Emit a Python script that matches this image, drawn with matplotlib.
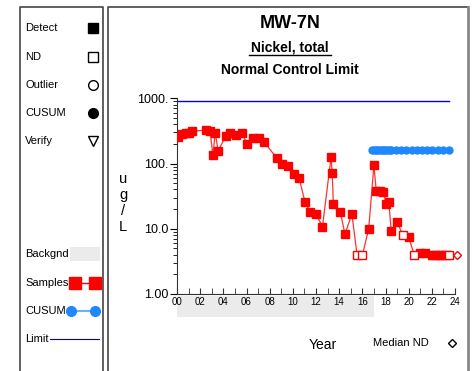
import matplotlib
matplotlib.use("Agg")
import matplotlib.pyplot as plt
import matplotlib.transforms as mtransforms
from matplotlib.patches import Rectangle
from matplotlib.lines import Line2D

plt.rcParams['font.family'] = ['Liberation Sans', 'DejaVu Sans']

# Muestras (anio decimal desde 2000, ug/L)
anios = [0.05, 0.4, 0.8, 1.05, 1.3, 2.5, 2.85, 3.1, 3.3, 3.55, 4.2, 4.6, 5.1, 5.6,
         6.06, 6.6, 7.07, 7.5, 8.6, 9.1, 9.55, 10.1, 10.55, 11.06, 11.5, 12.0,
         12.56, 13.3, 13.4, 13.5, 14.1, 14.5, 15.1, 15.55, 16.0, 16.55, 17.0,
         17.2, 17.5, 17.8, 18.08, 18.28, 18.5, 19.0, 19.5, 20.0, 20.5, 20.95,
         21.4, 22.0, 22.3, 22.6, 22.9, 23.2, 23.5]
valores = [257, 280, 296, 290, 314, 325, 314, 134, 296, 155, 263, 289, 273, 289,
           200, 248, 248, 216, 122, 97, 91, 70, 59, 25.4, 18, 16.8,
           10.8, 125, 72, 24, 18, 8.3, 16.8, 3.9, 3.9, 10, 94,
           38.5, 37.5, 36.8, 24, 25.7, 9.3, 12.8, 7.9, 7.4, 3.9, 4.27,
           4.3, 3.9, 3.9, 3.9, 3.9, 3.9, 3.9]
noDetectado = [False]*33 + [True, True] + [False]*9 + [True, False, True] + [False]*7 + [True]

# CUSUM
anioCusum = [16.85, 17.0, 17.15, 17.3, 17.45, 17.6, 17.75, 17.9, 18.05, 18.2, 18.35,
             18.5, 18.9, 19.35, 19.8, 20.25, 20.7, 21.15, 21.6, 22.05, 22.5, 22.95, 23.45]
valorCusum = [164]*len(anioCusum)

limite = 920
anioLimite = [0, 23.5]
medianaND = 3.9
anioFondo = 17.0

fig = plt.figure(figsize=(4.74, 3.71), dpi=100)
W, H = 474.0, 371.0

def fx(px):
    return px / W

def fy(py):
    return 1 - py / H

# Marcos de los paneles
fig.add_artist(Line2D([fx(20), fx(20), fx(103), fx(103)], [0, fy(7), fy(7), 0], color='#444444', lw=1.2))
fig.add_artist(Line2D([fx(108), fx(108), fx(468)], [0, fy(7), fy(7)], color='#444444', lw=1.2))
fig.add_artist(Line2D([fx(468), fx(468)], [fy(7), 0], color='#888888', lw=2))

# Leyenda
fs = 8
items = [('Detect', 's', 'black', 'black', 28), ('ND', 's', 'white', 'black', 57),
         ('Outlier', 'o', 'white', 'black', 85), ('CUSUM', 'o', 'black', 'black', 113),
         ('Verify', 'v', 'white', 'black', 141)]
for texto, m, fc, ec, py in items:
    fig.text(fx(25), fy(py), texto, fontsize=fs, va='center', ha='left')
    fig.add_artist(Line2D([fx(93)], [fy(py)], marker=m, markersize=7, markerfacecolor=fc,
                          markeredgecolor=ec, linestyle='none'))

fig.text(fx(25), fy(254), 'Backgnd', fontsize=fs, va='center')
fig.add_artist(Rectangle((fx(70), fy(261)), fx(30), 14 / H, transform=fig.transFigure,
                         facecolor='#ebebeb', edgecolor='none'))
fig.text(fx(25), fy(283), 'Samples', fontsize=fs, va='center')
fig.add_artist(Line2D([fx(75), fx(95)], [fy(283), fy(283)], color='red', lw=1,
                      marker='s', markersize=8, markerfacecolor='red', markeredgecolor='red'))
fig.text(fx(25), fy(311), 'CUSUM', fontsize=fs, va='center')
fig.add_artist(Line2D([fx(71), fx(95)], [fy(311), fy(311)], color='#66b3ff', lw=1.5,
                      marker='o', markersize=7, markerfacecolor='#1e88ff', markeredgecolor='#1e88ff'))
fig.text(fx(25), fy(339), 'Limit', fontsize=fs, va='center')
fig.add_artist(Line2D([fx(50), fx(99)], [fy(339), fy(339)], color='#0000cc', lw=0.8))

# Titulos
fig.text(fx(290), fy(24), 'MW-7N', fontsize=13, fontweight='bold', ha='center', va='center')
fig.text(fx(290), fy(47), 'Nickel, total', fontsize=10, fontweight='bold', ha='center', va='center')
fig.add_artist(Line2D([fx(249), fx(331)], [fy(55), fy(55)], color='black', lw=1))
fig.text(fx(290), fy(70), 'Normal Control Limit', fontsize=10, fontweight='bold', ha='center', va='center')

# Grafico principal
ax = fig.add_axes([177 / W, 1 - 294 / H, 278 / W, (294 - 98.3) / H])
ax.set_yscale('log')
ax.set_xlim(0, 24)
ax.set_ylim(1, 1000)

trans = mtransforms.blended_transform_factory(ax.transData, ax.transAxes)
ax.add_patch(Rectangle((0, -0.117), anioFondo, 0.105, transform=trans, facecolor='#ebebeb',
                       edgecolor='none', clip_on=False, zorder=0))

ax.plot(anioLimite, [limite, limite], color='#0000ee', lw=1, zorder=2)
ax.plot(anioCusum, valorCusum, color='#66b3ff', lw=1, marker='o', markersize=5,
        markerfacecolor='#1e88ff', markeredgecolor='#1e88ff', zorder=3)
ax.plot(anios, valores, color='#ff3030', lw=0.9, zorder=4)
xd = [a for a, n in zip(anios, noDetectado) if not n]
yd = [v for v, n in zip(valores, noDetectado) if not n]
xn = [a for a, n in zip(anios, noDetectado) if n]
yn = [v for v, n in zip(valores, noDetectado) if n]
ax.plot(xd, yd, 's', color='red', markersize=5.5, zorder=5)
ax.plot(xn, yn, 's', markerfacecolor='white', markeredgecolor='red', markersize=5.5, zorder=5)
ax.plot([24.2], [medianaND], 'D', markerfacecolor='white', markeredgecolor='red',
        markersize=4, clip_on=False, zorder=5)

for lado in ['top', 'right']:
    ax.spines[lado].set_visible(False)
ax.spines['left'].set_color('#333333')
ax.spines['bottom'].set_color('#333333')

ax.set_xticks(range(0, 25, 2))
ax.set_xticklabels(['%02d' % a for a in range(0, 25, 2)], fontsize=7)
ax.set_xticks(range(1, 24, 2), minor=True)
ax.tick_params(axis='x', which='both', direction='in', length=4, pad=2, colors='#333333', labelcolor='black')

ax.set_yticks([1, 10, 100, 1000])
ax.set_yticklabels(['1.00', '10.0', '100.', '1000.'], fontsize=9)
ax.tick_params(axis='y', which='major', direction='out', length=5, pad=1)
ax.tick_params(axis='y', which='minor', direction='out', length=3)

fig.text(fx(123), fy(203), 'u\ng\n/\nL', fontsize=10.5, ha='center', va='center', linespacing=1.2)
fig.text(fx(323), fy(345), 'Year', fontsize=10, ha='center', va='center')
fig.text(fx(373), fy(343), 'Median ND', fontsize=8, ha='left', va='center')
fig.add_artist(Line2D([fx(452)], [fy(343)], marker='D', markersize=4.5, markerfacecolor='white',
                      markeredgecolor='black', linestyle='none'))

fig.savefig('out.png', dpi=100)
